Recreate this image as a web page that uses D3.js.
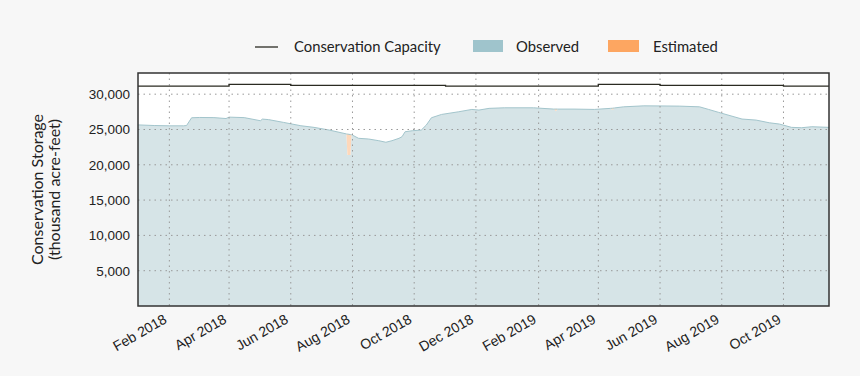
<!DOCTYPE html>
<html>
<head>
<meta charset="utf-8">
<script src="https://cdn.jsdelivr.net/npm/d3@7"></script>
<style>
  body { margin: 0; background: #f7f7f7; }
  svg { font-family: Lato, "Noto Sans", sans-serif; }
  .tick text { fill: #222; }
</style>
</head>
<body>
<div id="container"></div>
<script>
const WIDTH = 860,
      HEIGHT = 376;

const margin = { top: 73, bottom: 70, left: 138, right: 31 };

const width = WIDTH - margin.left - margin.right,
      height = HEIGHT - margin.top - margin.bottom;

// datos (miles de acre-feet)
const observedDates = [
  "2018-01-01", "2018-01-17", "2018-02-01", "2018-02-15", "2018-02-18", "2018-02-23",
  "2018-03-03", "2018-03-17", "2018-03-29", "2018-04-01", "2018-04-16", "2018-05-02",
  "2018-05-04", "2018-05-10", "2018-05-25", "2018-06-11", "2018-06-24", "2018-07-09",
  "2018-07-26", "2018-07-27", "2018-07-30", "2018-07-31", "2018-08-01", "2018-08-07",
  "2018-08-17", "2018-08-27", "2018-09-03", "2018-09-09", "2018-09-16", "2018-09-19",
  "2018-09-22", "2018-09-29", "2018-10-08", "2018-10-13", "2018-10-18", "2018-10-28",
  "2018-11-14", "2018-11-27", "2018-12-04", "2018-12-14", "2018-12-29", "2019-01-27",
  "2019-02-16", "2019-02-18", "2019-02-20", "2019-03-08", "2019-03-28", "2019-04-13",
  "2019-04-15", "2019-04-17", "2019-04-26", "2019-05-16",
  "2019-06-20", "2019-07-10", "2019-07-19", "2019-07-29", "2019-08-21", "2019-09-04",
  "2019-09-17", "2019-09-27", "2019-10-09", "2019-10-19", "2019-10-29", "2019-11-15"
];
const observedValues = [
  25650, 25560, 25520, 25520, 25560, 26660,
  26700, 26680, 26550, 26750, 26680, 26240,
  26470, 26400, 26000, 25530, 25300, 24920,
  24370, 21400, 21400, 24260, 24200, 23750,
  23650, 23410, 23190, 23410, 23750, 23980,
  24680, 24820, 24920, 25630, 26660, 27130,
  27510, 27840, 27750, 27990, 28070, 28070,
  27890, 27600, 27890, 27890, 27840, 27990,
  27750, 28050, 28210, 28350,
  28310, 28210, 27840, 27420, 26480, 26330,
  25950, 25770, 25300, 25250, 25390, 25300
];

// estimado: se apila sobre lo observado
const estimatedDates = ["2018-07-26", "2018-07-27", "2018-07-30", "2018-07-31",
                        "2019-02-16", "2019-02-18", "2019-02-20",
                        "2019-04-13", "2019-04-15", "2019-04-17"];
const estimatedValues = [0, 2950, 2880, 0,
                         0, 300, 0,
                         0, 260, 0];

const capacityDates = ["2018-01-01", "2018-04-01", "2018-06-01", "2018-11-01",
                       "2019-04-01", "2019-06-01", "2019-10-01", "2019-11-15"];
const capacityValues = [31150, 31400, 31250, 31150, 31400, 31250, 31150, 31150];

const xTickDates = ["2018-02-01", "2018-04-01", "2018-06-01", "2018-08-01", "2018-10-01",
                    "2018-12-01", "2019-02-01", "2019-04-01", "2019-06-01", "2019-08-01",
                    "2019-10-01"];
const yTicks = [5000, 10000, 15000, 20000, 25000, 30000];

const parseDate = d3.timeParse("%Y-%m-%d");
const estByDate = new Map(estimatedDates.map((d, i) => [d, estimatedValues[i]]));
const observed = observedDates.map((d, i) => ({
    date: parseDate(d),
    value: observedValues[i],
    total: observedValues[i] + (estByDate.get(d) || 0)
}));
const estimated = estimatedDates.map((d, i) => {
    const obs = observedValues[observedDates.indexOf(d)];
    return { date: parseDate(d), low: obs, high: obs + estimatedValues[i], group: i < 4 ? 0 : (i < 7 ? 1 : 2) };
});
const capacity = capacityDates.map((d, i) => ({ date: parseDate(d), value: capacityValues[i] }));
const xTicks = xTickDates.map(parseDate);

const svg = d3.select('#container')
    .append('svg')
    .attr("width", WIDTH)
    .attr("height", HEIGHT);

const container = svg.append('g')
    .attr("transform", `translate(${margin.left}, ${margin.top})`);

const xScale = d3.scaleTime()
    .domain([parseDate("2018-01-01"), parseDate("2019-11-15")])
    .range([0, width]);

const yScale = d3.scaleLinear()
    .domain([0, 33000])
    .range([height, 0]);

// fondo blanco del area de grafico
container.append("rect")
    .attr("width", width)
    .attr("height", height)
    .attr("fill", "white");

container.append("path")
    .datum(observed)
    .attr("fill", "#d6e4e7")
    .attr("d", d3.area()
        .x((d) => xScale(d.date))
        .y0(yScale(0))
        .y1((d) => yScale(d.value)));

const estArea = d3.area()
    .x((d) => xScale(d.date))
    .y0((d) => yScale(d.low))
    .y1((d) => yScale(d.high));

container.selectAll(".est")
    .data(d3.groups(estimated, (d) => d.group).map((g) => g[1]))
    .join("path")
    .attr("class", "est")
    .attr("fill", "#fed8bb")
    .attr("d", estArea);

container.append("path")
    .datum(observed)
    .attr("fill", "none")
    .attr("stroke", "#a3c5cc")
    .attr("stroke-width", 1)
    .attr("d", d3.line().x((d) => xScale(d.date)).y((d) => yScale(d.total)));

// grilla punteada
container.append("g")
    .selectAll("line")
    .data(xTicks)
    .join("line")
    .attr("x1", (d) => xScale(d))
    .attr("x2", (d) => xScale(d))
    .attr("y1", 0)
    .attr("y2", height)
    .attr("stroke", "#999")
    .attr("stroke-width", 1)
    .attr("stroke-dasharray", "1.5,4");

container.append("g")
    .selectAll("line")
    .data(yTicks)
    .join("line")
    .attr("x1", 0)
    .attr("x2", width)
    .attr("y1", (d) => yScale(d))
    .attr("y2", (d) => yScale(d))
    .attr("stroke", "#999")
    .attr("stroke-width", 1)
    .attr("stroke-dasharray", "1.5,4");

// capacidad
container.append("path")
    .datum(capacity)
    .attr("fill", "none")
    .attr("stroke", "#2b2b22")
    .attr("stroke-width", 1.3)
    .attr("d", d3.line().curve(d3.curveStepAfter).x((d) => xScale(d.date)).y((d) => yScale(d.value)));

// marco
container.append("rect")
    .attr("width", width)
    .attr("height", height)
    .attr("fill", "none")
    .attr("stroke", "#333")
    .attr("stroke-width", 1.5);

// ejes
const xAxis = d3.axisBottom(xScale)
    .tickValues(xTicks)
    .tickFormat(d3.timeFormat("%b %Y"))
    .tickSize(0)
    .tickPadding(0);

svg.append("g")
    .attr("class", "xAxis")
    .attr("transform", `translate(${margin.left}, ${HEIGHT - margin.bottom})`)
    .call(xAxis)
    .call((g) => g.select(".domain").remove())
    .selectAll("text")
    .attr("font-size", 14)
    .attr("text-anchor", "end")
    .attr("dy", 0)
    .attr("y", 0)
    .attr("transform", "translate(-2, 16) rotate(-30)");

const yAxis = d3.axisLeft(yScale)
    .tickValues(yTicks)
    .tickFormat(d3.format(","))
    .tickSize(0)
    .tickPadding(8);

svg.append("g")
    .attr("class", "yAxis")
    .attr("transform", `translate(${margin.left}, ${margin.top})`)
    .call(yAxis)
    .call((g) => g.select(".domain").remove())
    .selectAll("text")
    .attr("font-size", 13.5);

const yLabel = svg.append("text")
    .attr("transform", `translate(43, ${margin.top + height / 2}) rotate(-90)`)
    .attr("text-anchor", "middle")
    .attr("font-size", 16)
    .attr("fill", "#222");
yLabel.append("tspan").attr("x", 0).attr("dy", "0").text("Conservation Storage");
yLabel.append("tspan").attr("x", 0).attr("dy", "1.05em").text("(thousand acre-feet)");

// leyenda
const legend = svg.append("g").attr("font-size", 14.8).attr("fill", "#222");

legend.append("line")
    .attr("x1", 255).attr("x2", 278)
    .attr("y1", 47).attr("y2", 47)
    .attr("stroke", "#2b2b22").attr("stroke-width", 1.3);
legend.append("text").attr("x", 294).attr("y", 52).text("Conservation Capacity");

legend.append("rect")
    .attr("x", 473).attr("y", 40).attr("width", 30).attr("height", 12)
    .attr("fill", "#9fc4cc");
legend.append("text").attr("x", 516).attr("y", 52).text("Observed");

legend.append("rect")
    .attr("x", 608).attr("y", 40).attr("width", 31).attr("height", 12)
    .attr("fill", "#fda661");
legend.append("text").attr("x", 653).attr("y", 52).text("Estimated");
</script>
</body>
</html>
